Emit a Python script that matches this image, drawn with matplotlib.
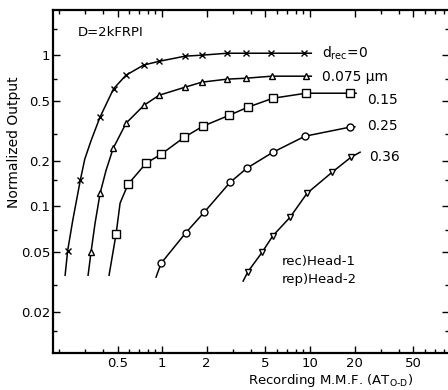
import numpy as np
import matplotlib
matplotlib.use("Agg")
from matplotlib import pyplot as plt
from matplotlib import ticker

# marker points (Recording MMF in AT, normalized output)
cross_x = [0.23, 0.28, 0.38, 0.47, 0.57, 0.75, 0.95, 1.43, 1.86, 2.75, 3.7, 5.45, 9.1]
cross_y = [0.051, 0.149, 0.388, 0.60, 0.737, 0.86, 0.91, 0.985, 1.0, 1.03, 1.03, 1.03, 1.03]
tri_x = [0.331, 0.381, 0.467, 0.571, 0.756, 0.954, 1.43, 1.86, 2.75, 3.7, 5.5, 9.4]
tri_y = [0.050, 0.122, 0.242, 0.355, 0.467, 0.543, 0.614, 0.663, 0.694, 0.704, 0.726, 0.726]
sq_x = [0.489, 0.589, 0.78, 0.985, 1.41, 1.89, 2.84, 3.81, 5.62, 9.4, 18.6]
sq_y = [0.066, 0.14, 0.193, 0.221, 0.286, 0.339, 0.40, 0.453, 0.519, 0.56, 0.56]
circ_x = [0.985, 1.45, 1.92, 2.88, 3.75, 5.62, 9.25, 18.6]
circ_y = [0.042, 0.067, 0.091, 0.144, 0.179, 0.228, 0.291, 0.334]
vtri_x = [3.81, 4.74, 5.62, 7.33, 9.55, 14.1, 18.9]
vtri_y = [0.037, 0.0496, 0.064, 0.0846, 0.122, 0.168, 0.211]

# extra points on the drawn curves (tails without markers)
cross_tx = [0.221, 0.249, 0.30, 0.33, 10.2]
cross_ty = [0.035, 0.081, 0.205, 0.27, 1.03]
tri_tx = [0.316, 0.352, 0.418, 10.2]
tri_ty = [0.035, 0.077, 0.173, 0.726]
sq_tx = [0.438, 0.52, 20.5]
sq_ty = [0.035, 0.105, 0.56]
circ_tx = [0.91, 20.1]
circ_ty = [0.034, 0.336]
vtri_tx = [3.53, 21.8]
vtri_ty = [0.032, 0.228]

series = [
    (cross_x, cross_y, cross_tx, cross_ty, "x", 4.5),
    (tri_x, tri_y, tri_tx, tri_ty, "^", 4.5),
    (sq_x, sq_y, sq_tx, sq_ty, "s", 5.5),
    (circ_x, circ_y, circ_tx, circ_ty, "o", 5.0),
    (vtri_x, vtri_y, vtri_tx, vtri_ty, "v", 4.5),
]
curve_labels = ["d$_{\\rm rec}$=0", "0.075 \u00b5m", "0.15", "0.25", "0.36"]
x_ticks = [0.5, 1, 2, 5, 10, 20, 50]
x_ticklabels = ["0.5", "1", "2", "5", "10", "20", "50"]
y_ticks = [0.02, 0.05, 0.1, 0.2, 0.5, 1]
y_ticklabels = ["0.02", "0.05", "0.1", "0.2", "0.5", "1"]
y_minor = [0.015, 0.03, 0.07, 0.15, 0.3, 0.7, 1.5]

W, H = 448, 390
fig = plt.figure(figsize=(W / 100, H / 100), dpi=100)
plt.rcParams['font.family'] = ['DejaVu Sans']

left, right, top, bottom = 53, 449, 10, 353
ax = fig.add_axes([left / W, 1 - bottom / H, (right - left) / W, (bottom - top) / H])
ax.set_xscale("log")
ax.set_yscale("log")
ax.set_xlim(0.183, 87)
ax.set_ylim(0.0107, 1.99)

for mx, my, tx, ty, mk, ms in series:
    lx = np.array(list(mx) + list(tx))
    ly = np.array(list(my) + list(ty))
    order = np.argsort(lx)
    ax.plot(lx[order], ly[order], "-", color="black", lw=1.1)
    ax.plot(mx, my, linestyle="none", marker=mk, ms=ms, mfc="white",
            mec="black", mew=1.0, color="black")

ax.xaxis.set_major_locator(ticker.FixedLocator(x_ticks))
ax.xaxis.set_major_formatter(ticker.FixedFormatter(x_ticklabels))
ax.xaxis.set_minor_locator(ticker.LogLocator(base=10, subs=np.arange(2, 10)))
ax.xaxis.set_minor_formatter(ticker.NullFormatter())
ax.yaxis.set_major_locator(ticker.FixedLocator(y_ticks))
ax.yaxis.set_major_formatter(ticker.FixedFormatter(y_ticklabels))
ax.yaxis.set_minor_locator(ticker.FixedLocator(y_minor))
ax.yaxis.set_minor_formatter(ticker.NullFormatter())

ax.tick_params(which="both", direction="in", top=True, right=True, width=1.0,
               labelsize=9.5, pad=2)
ax.tick_params(which="major", length=5)
ax.tick_params(which="minor", length=3)
ax.tick_params(axis="x", pad=3)
for s in ax.spines.values():
    s.set_linewidth(1.6)


def ftext(px, py, s, **kw):
    fig.text(px / W, 1 - py / H, s, **kw)


ftext(78, 33, "D=2kFRPI", fontsize=9.5, va="center", ha="left")
label_pos = [(322, 53), (322, 77), (367, 100), (367, 126), (369, 157)]
for (px, py), s in zip(label_pos, curve_labels):
    ftext(px, py, s, fontsize=10, va="center", ha="left")
ftext(282, 262, "rec)Head-1", fontsize=9.5, va="center", ha="left")
ftext(282, 279, "rep)Head-2", fontsize=9.5, va="center", ha="left")
ftext(14, 142, "Normalized Output", fontsize=10, rotation=90, va="center", ha="center")
ftext(331, 389, "Recording M.M.F. (AT$_{\\rm O\\text{-}D}$)", fontsize=9.5,
      va="bottom", ha="center")

fig.savefig("out.png", dpi=100)
